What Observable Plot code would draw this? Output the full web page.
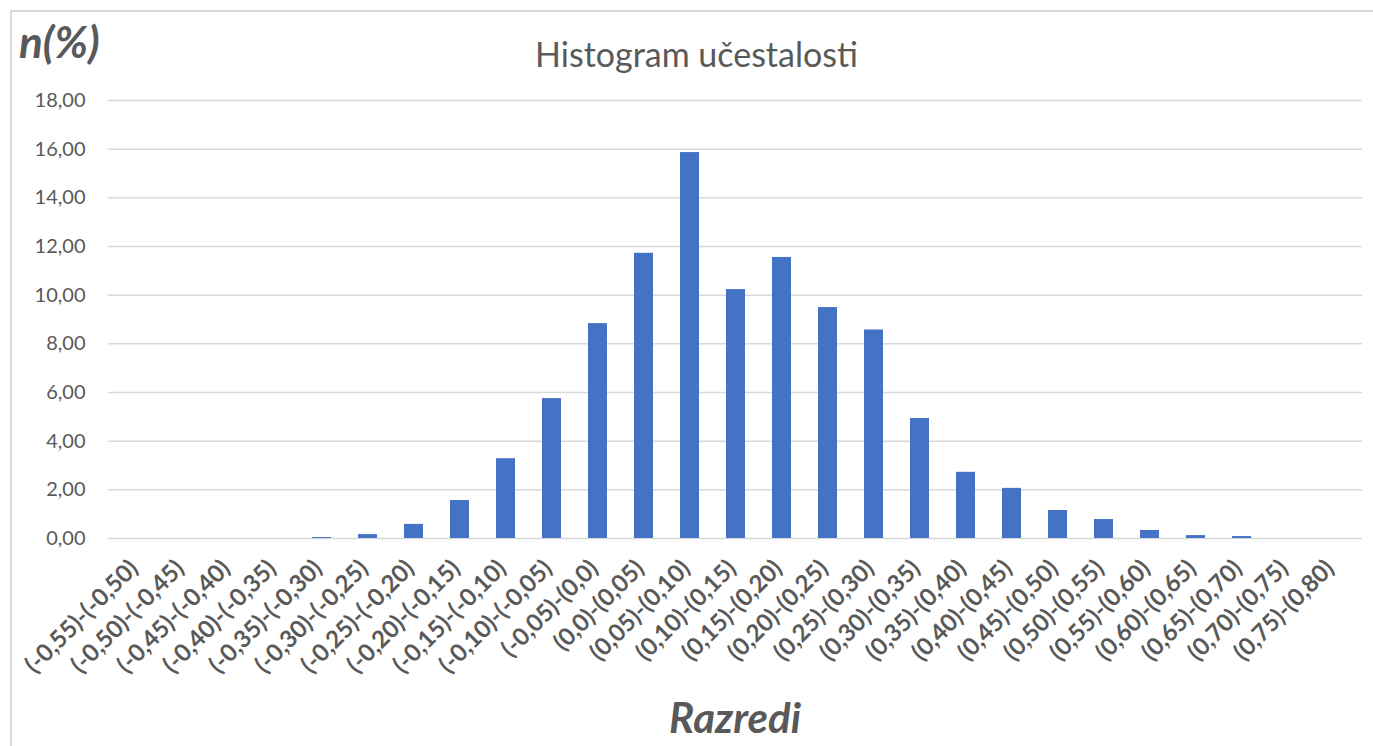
<!DOCTYPE html>
<html>
<head>
<meta charset="utf-8">
<script src="https://cdn.jsdelivr.net/npm/d3@7"></script>
<script src="https://cdn.jsdelivr.net/npm/@observablehq/plot@0.6"></script>
<style>
  html, body { margin: 0; padding: 0; background: #fff; }
  #wrap { position: relative; width: 1373px; height: 746px; overflow: hidden; font-family: Lato, "Open Sans", sans-serif; }
  #frame { position: absolute; left: 10px; top: 10px; width: 1400px; height: 800px; border: 2px solid #d9d9d9; box-sizing: border-box; }
  #chart { position: absolute; left: 0; top: 0; }
  .lbl { position: absolute; color: #595959; white-space: nowrap; }
  #title { left: 0; width: 1393px; top: 33px; text-align: center; font-size: 34px; }
  #ylab { left: 19px; top: 15px; font-size: 44px; font-weight: bold; font-style: italic; }
  #xlab { left: 0; width: 1470px; top: 692px; text-align: center; font-size: 42px; font-weight: bold; font-style: italic; }
  #chart svg g[aria-label="x-axis tick label"] text { font-size: 24px; font-weight: bold; }
  #chart svg g[aria-label="y-axis tick label"] text { font-size: 20px; }
</style>
</head>
<body>
<div id="wrap">
  <div id="frame"></div>
  <div id="chart"></div>
  <div class="lbl" id="title">Histogram učestalosti</div>
  <div class="lbl" id="ylab">n(%)</div>
  <div class="lbl" id="xlab">Razredi</div>
</div>
<script>
const categories = [
  "(-0,55)-(-0,50)", "(-0,50)-(-0,45)", "(-0,45)-(-0,40)", "(-0,40)-(-0,35)",
  "(-0,35)-(-0,30)", "(-0,30)-(-0,25)", "(-0,25)-(-0,20)", "(-0,20)-(-0,15)",
  "(-0,15)-(-0,10)", "(-0,10)-(-0,05)", "(-0,05)-(0,0)", "(0,0)-(0,05)",
  "(0,05)-(0,10)", "(0,10)-(0,15)", "(0,15)-(0,20)", "(0,20)-(0,25)",
  "(0,25)-(0,30)", "(0,30)-(0,35)", "(0,35)-(0,40)", "(0,40)-(0,45)",
  "(0,45)-(0,50)", "(0,50)-(0,55)", "(0,55)-(0,60)", "(0,60)-(0,65)",
  "(0,65)-(0,70)", "(0,70)-(0,75)", "(0,75)-(0,80)"
];
const values = [
  0, 0, 0, 0,
  0.04, 0.16, 0.58, 1.56,
  3.28, 5.75, 8.83, 11.72,
  15.86, 10.23, 11.55, 9.49,
  8.57, 4.93, 2.72, 2.06,
  1.15, 0.78, 0.33, 0.12,
  0.08, 0, 0
];
const yTicks = [0, 2, 4, 6, 8, 10, 12, 14, 16, 18];

const data = categories.map((c, i) => ({cat: c, v: values[i]}));
const fmt = d => d.toFixed(2).replace(".", ",");

const chart = Plot.plot({
  width: 1373,
  height: 746,
  marginTop: 100,
  marginBottom: 208,
  marginLeft: 108,
  marginRight: 11,
  style: { fontFamily: "Lato, 'Open Sans', sans-serif", background: "transparent", color: "#595959" },
  x: { domain: categories, paddingInner: 0.59, paddingOuter: 0.295, align: 0.5 },
  y: { domain: [0, 18] },
  marks: [
    Plot.ruleY(yTicks, { stroke: "#d9d9d9", strokeWidth: 1.5 }),
    Plot.barY(data, { x: "cat", y: "v", fill: "#4472C4" }),
    Plot.axisY({ ticks: yTicks, tickFormat: fmt, tickSize: 0, tickPadding: 23, fill: "#595959", label: null }),
    Plot.axisX({ tickSize: 0, tickRotate: -45, tickPadding: 26, fill: "#595959", label: null, dx: -4 })
  ]
});
document.getElementById("chart").appendChild(chart);
</script>
</body>
</html>
